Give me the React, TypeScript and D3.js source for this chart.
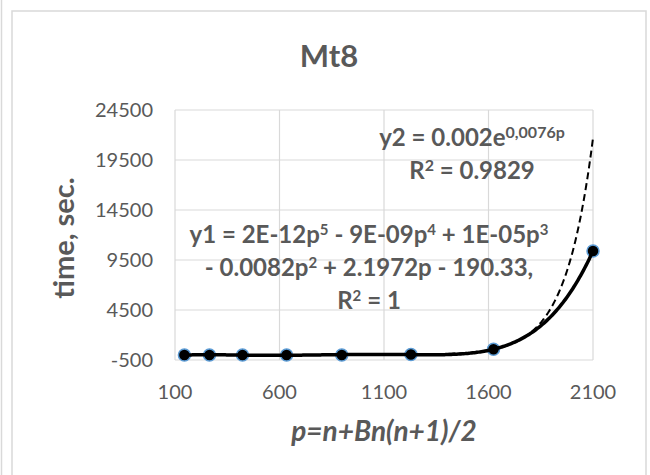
import React, { useEffect, useRef } from 'react';
import * as d3 from 'd3';

// measured series (p, time in sec.)
const pValues = [145, 265, 423, 634, 898, 1229, 1624, 2100];
const timeValues = [0.003, 0.012, 0.08, 0.55, 4.6, 52, 570, 10400];

const xTicks = [100, 600, 1100, 1600, 2100];
const yTicks = [-500, 4500, 9500, 14500, 19500, 24500];

const chartTitle = 'Mt8';
const xTitle = 'p=n+Bn(n+1)/2';
const yTitle = 'time, sec.';

// trendline labels: pieces of [text, superscript?]
const polyLabel: [string, boolean][][] = [
    [['y1 = 2E-12p', false], ['5', true], [' - 9E-09p', false], ['4', true], [' + 1E-05p', false], ['3', true]],
    [['- 0.0082p', false], ['2', true], [' + 2.1972p - 190.33,', false]],
    [['R', false], ['2', true], [' = 1', false]],
];
const expLabel: [string, boolean][][] = [
    [['y2 = 0.002e', false], ['0,0076p', true]],
    [['R', false], ['2', true], [' = 0.9829', false]],
];

const W = 650;
const H = 475;
const TEXT = '#595959';
const GRID = '#d9d9d9';
const FONT = 'Lato, "Open Sans", sans-serif';

// least squares polynomial (x scaled to keep the system well conditioned)
function polyFit(xs: number[], ys: number[], degree: number) {
    const t = xs.map((x) => (x - 1100) / 1000);
    const n = degree + 1;
    const A: number[][] = [];
    for (let i = 0; i < n; i++) {
        A.push([]);
        for (let j = 0; j <= n; j++) A[i].push(0);
    }
    t.forEach((tv, k) => {
        for (let i = 0; i < n; i++) {
            for (let j = 0; j < n; j++) A[i][j] += Math.pow(tv, i + j);
            A[i][n] += Math.pow(tv, i) * ys[k];
        }
    });
    for (let c = 0; c < n; c++) {
        let piv = c;
        for (let r = c + 1; r < n; r++) if (Math.abs(A[r][c]) > Math.abs(A[piv][c])) piv = r;
        [A[c], A[piv]] = [A[piv], A[c]];
        for (let r = 0; r < n; r++) {
            if (r === c) continue;
            const f = A[r][c] / A[c][c];
            for (let j = c; j <= n; j++) A[r][j] -= f * A[c][j];
        }
    }
    const coef = A.map((row, i) => row[n] / row[i]);
    return (x: number) => {
        const tv = (x - 1100) / 1000;
        return coef.reduce((s, c, i) => s + c * Math.pow(tv, i), 0);
    };
}

// exponential fit through ln(y)
function expFit(xs: number[], ys: number[]) {
    const ly = ys.map((y) => Math.log(y));
    const mx = d3.mean(xs) as number;
    const my = d3.mean(ly) as number;
    let sxy = 0;
    let sxx = 0;
    xs.forEach((x, i) => {
        sxy += (x - mx) * (ly[i] - my);
        sxx += (x - mx) * (x - mx);
    });
    const b = sxy / sxx;
    const a = my - b * mx;
    return (x: number) => Math.exp(a + b * x);
}

export default function App() {
    const ref = useRef<SVGSVGElement>(null);

    useEffect(() => {
        const svg = d3.select(ref.current);
        svg.selectAll('*').remove();

        const x = d3.scaleLinear().domain([100, 2100]).range([175, 593]);
        const y = d3.scaleLinear().domain([-500, 24500]).range([360, 110]);

        svg.append('rect').attr('width', W).attr('height', H).attr('fill', '#fff');
        svg.append('line')
            .attr('x1', 1.5).attr('x2', 1.5).attr('y1', 0).attr('y2', H)
            .attr('stroke', GRID).attr('stroke-width', 1.5);
        svg.append('rect')
            .attr('x', 12).attr('y', 11).attr('width', 634).attr('height', H + 20)
            .attr('fill', 'none').attr('stroke', GRID).attr('stroke-width', 1.5);

        // gridlines
        svg.append('g')
            .selectAll('line')
            .data(yTicks)
            .join('line')
            .attr('x1', x(100)).attr('x2', x(2100))
            .attr('y1', (d) => y(d)).attr('y2', (d) => y(d))
            .attr('stroke', GRID).attr('stroke-width', 1.2);
        svg.append('g')
            .selectAll('line')
            .data(xTicks)
            .join('line')
            .attr('x1', (d) => x(d)).attr('x2', (d) => x(d))
            .attr('y1', y(-500)).attr('y2', y(24500))
            .attr('stroke', GRID).attr('stroke-width', 1.2);

        // tick labels
        svg.append('g')
            .selectAll('text')
            .data(yTicks)
            .join('text')
            .attr('x', 153).attr('y', (d) => y(d)).attr('dy', '0.36em')
            .attr('text-anchor', 'end')
            .attr('font-family', FONT).attr('font-size', 20).attr('fill', TEXT)
            .text((d) => String(d));
        svg.append('g')
            .selectAll('text')
            .data(xTicks)
            .join('text')
            .attr('x', (d) => x(d)).attr('y', 399)
            .attr('text-anchor', 'middle')
            .attr('font-family', FONT).attr('font-size', 20).attr('fill', TEXT)
            .text((d) => String(d));

        // titles
        svg.append('text')
            .attr('x', 329).attr('y', 67).attr('text-anchor', 'middle')
            .attr('font-family', FONT).attr('font-weight', 'bold').attr('font-size', 31).attr('fill', TEXT)
            .text(chartTitle);
        svg.append('text')
            .attr('transform', 'translate(74,238) rotate(-90)')
            .attr('text-anchor', 'middle')
            .attr('font-family', FONT).attr('font-weight', 'bold').attr('font-size', 29).attr('fill', TEXT)
            .text(yTitle);
        svg.append('text')
            .attr('x', 384).attr('y', 441).attr('text-anchor', 'middle')
            .attr('font-family', FONT).attr('font-weight', 'bold').attr('font-style', 'italic')
            .attr('font-size', 28).attr('fill', TEXT)
            .text(xTitle);

        // trendlines
        const poly = polyFit(pValues, timeValues, 5);
        const expo = expFit(pValues, timeValues);
        const pMin = d3.min(pValues) as number;
        const pMax = d3.max(pValues) as number;
        const samples = d3.range(0, 301).map((i) => pMin + ((pMax - pMin) * i) / 300);
        const line = d3
            .line<number>()
            .x((d) => x(d))
            .curve(d3.curveLinear);

        svg.append('path')
            .attr('d', line.y((d) => y(expo(d)))(samples))
            .attr('fill', 'none').attr('stroke', '#000').attr('stroke-width', 2)
            .attr('stroke-dasharray', '7,4');

        // markers
        svg.append('g')
            .selectAll('circle')
            .data(pValues)
            .join('circle')
            .attr('cx', (d) => x(d))
            .attr('cy', (d, i) => y(timeValues[i]))
            .attr('r', 6)
            .attr('fill', '#000')
            .attr('stroke', '#5b9bd5')
            .attr('stroke-width', 1.5);

        svg.append('path')
            .attr('d', line.y((d) => y(poly(d)))(samples))
            .attr('fill', 'none').attr('stroke', '#000').attr('stroke-width', 3.5);

        // equation labels
        function richLines(lines: [string, boolean][][], cx: number, y0: number, gap: number, supSize: number) {
            lines.forEach((pieces, li) => {
                const t = svg.append('text')
                    .attr('x', cx).attr('y', y0 + li * gap).attr('text-anchor', 'middle')
                    .attr('font-family', FONT).attr('font-weight', 'bold').attr('font-size', 24).attr('fill', TEXT);
                let raised = false;
                pieces.forEach(([s, sup]) => {
                    const ts = t.append('tspan').text(s);
                    if (sup) {
                        ts.attr('font-size', supSize).attr('dy', raised ? 0 : -8);
                        raised = true;
                    } else {
                        ts.attr('dy', raised ? 8 : 0);
                        raised = false;
                    }
                });
            });
        }
        richLines(polyLabel, 369, 243, 33, 15);
        richLines(expLabel, 472, 146, 33, 16);
    }, []);

    return <svg ref={ref} width={W} height={H} style={{ position: 'absolute', left: 0, top: 0 }} />;
}
